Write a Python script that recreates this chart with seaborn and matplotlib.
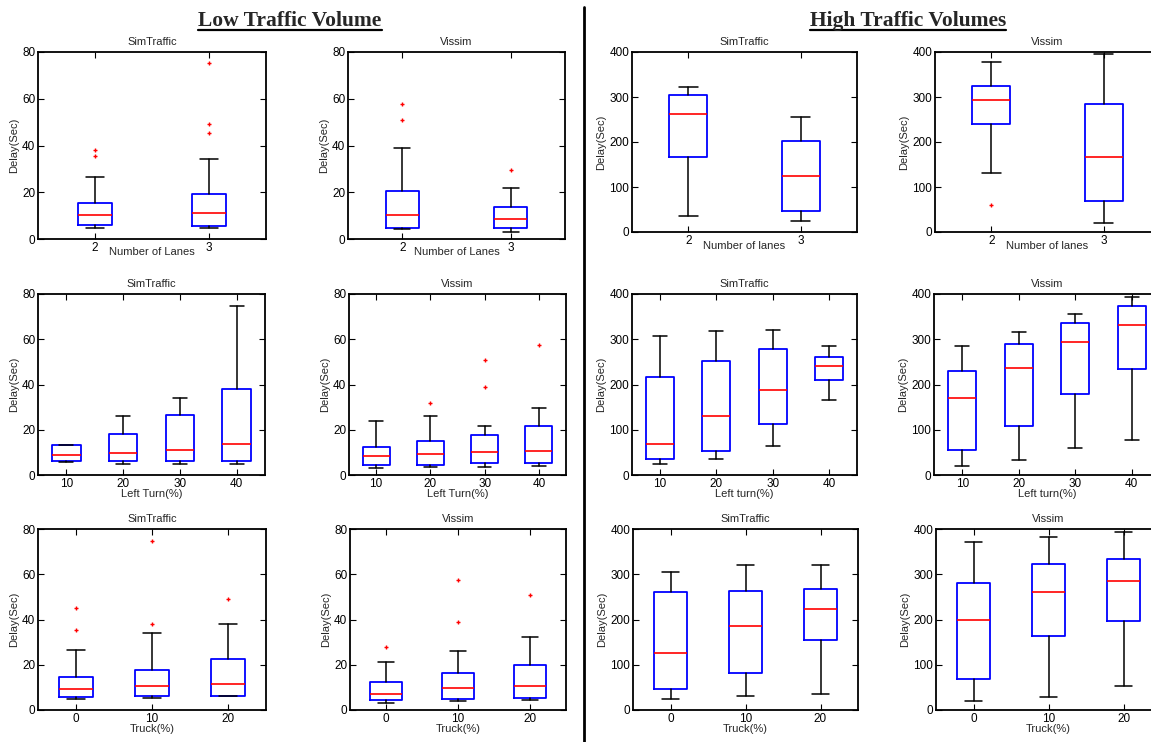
import matplotlib
matplotlib.use("Agg")
import matplotlib.pyplot as plt
import seaborn as sns
from matplotlib.lines import Line2D

W, H = 1151, 742

lanes = ["2", "3"]
left_turn = ["10", "20", "30", "40"]
truck = ["0", "10", "20"]

# per category: [lower whisker, q1, median, q3, upper whisker]
low_sim_lanes = [[4.7, 6.0, 10.1, 15.4, 26.4], [4.9, 5.7, 11.1, 19.1, 34.1]]
low_sim_lanes_out = [[38.1, 35.5], [75.2, 49.1, 45.2]]
low_vis_lanes = [[4.1, 4.9, 10.1, 20.4, 38.9], [3.1, 4.7, 8.6, 13.6, 21.7]]
low_vis_lanes_out = [[57.6, 50.9], [29.5]]
high_sim_lanes = [[36.3, 165.9, 261.5, 303.7, 322.2], [25.2, 47.4, 124.4, 201.5, 254.8]]
high_sim_lanes_out = [[], []]
high_vis_lanes = [[130.4, 240.7, 292.6, 324.4, 377.0], [20.7, 69.6, 167.4, 284.4, 395.6]]
high_vis_lanes_out = [[59.3], []]

low_sim_left = [[5.6, 6.2, 8.7, 13.1, 13.1], [5.0, 6.0, 9.9, 18.1, 26.1],
                [5.0, 6.0, 11.2, 26.5, 34.0], [4.9, 6.0, 13.7, 37.8, 74.8]]
low_sim_left_out = [[], [], [], []]
low_vis_left = [[3.1, 4.4, 8.2, 12.5, 24.0], [3.7, 4.6, 9.3, 14.9, 26.1],
                [3.7, 5.3, 10.0, 17.7, 21.5], [4.0, 5.2, 10.5, 21.8, 29.6]]
low_vis_left_out = [[], [32.0], [50.8, 38.7], [57.3]]
high_sim_left = [[25.0, 35.4, 68.5, 215.8, 307.9], [34.6, 53.0, 129.7, 251.9, 318.2],
                 [64.8, 112.7, 188.6, 277.7, 321.2], [165.7, 209.2, 240.1, 260.8, 284.3]]
high_sim_left_out = [[], [], [], []]
high_vis_left = [[20.6, 56.0, 170.2, 229.1, 284.3], [32.4, 108.3, 235.7, 288.8, 316.0],
                 [59.7, 178.3, 293.9, 335.9, 355.1], [78.1, 233.5, 331.5, 372.7, 392.6]]
high_vis_left_out = [[], [], [], []]

low_sim_truck = [[4.9, 5.6, 9.1, 14.6, 26.7], [5.5, 6.0, 10.8, 17.8, 34.2],
                 [6.0, 6.0, 11.6, 22.4, 38.0]]
low_sim_truck_out = [[45.1, 35.4], [74.7, 37.9], [48.9]]
low_vis_truck = [[3.2, 4.6, 7.2, 12.5, 21.2], [4.0, 4.9, 9.6, 16.4, 26.1],
                 [4.3, 5.3, 10.6, 19.7, 32.1]]
low_vis_truck_out = [[27.7], [57.3, 38.7], [50.8]]
high_sim_truck = [[25.0, 47.1, 126.0, 260.8, 305.7], [30.2, 82.5, 184.9, 262.2, 321.2],
                  [35.4, 154.0, 222.5, 268.1, 320.4]]
high_sim_truck_out = [[], [], []]
high_vis_truck = [[20.6, 69.2, 198.2, 281.4, 370.5], [29.5, 163.5, 260.0, 323.4, 382.3],
                  [53.8, 196.7, 285.1, 334.4, 393.4]]
high_vis_truck_out = [[], [], []]


def px(left, top, right, bottom):
    return [left / W, 1 - bottom / H, (right - left) / W, (bottom - top) / H]


def draw_panel(fig, rect, summary, outliers, cats, title, xlabel, ymax,
               width, xlabelpad):
    ax = fig.add_axes(px(*rect))
    stats = [dict(whislo=s[0], q1=s[1], med=s[2], q3=s[3], whishi=s[4],
                  fliers=o, label=c) for s, o, c in zip(summary, outliers, cats)]
    ax.bxp(stats, widths=width, showfliers=True,
           boxprops=dict(color="blue", lw=1.3),
           medianprops=dict(color="red", lw=1.2),
           whiskerprops=dict(color="black", lw=1.1),
           capprops=dict(color="black", lw=1.1),
           flierprops=dict(marker="+", markeredgecolor="red", markersize=3.5,
                           markeredgewidth=1.0, linestyle="none"))
    ax.set_xlim(0.5, len(cats) + 0.5)
    ax.set_ylim(0, ymax)
    ax.set_yticks([ymax * i / 4 for i in range(5)])
    ax.set_facecolor("white")
    ax.grid(False)
    for sp in ax.spines.values():
        sp.set_visible(True)
        sp.set_color("black")
        sp.set_linewidth(1.3)
    ax.tick_params(direction="in", top=True, right=True, length=4, width=0.8,
                   labelsize=8.5, pad=2, colors="black")
    ax.set_title(title, fontsize=8, pad=5)
    ax.set_xlabel(xlabel, fontsize=8, labelpad=xlabelpad)
    ax.set_ylabel("Delay(Sec)", fontsize=8, labelpad=2)
    return ax


sns.set_theme(style="ticks", context="paper")
plt.rcParams["font.family"] = ["Liberation Sans", "DejaVu Sans"]

fig = plt.figure(figsize=(W / 100, H / 100), dpi=100)
fig.patch.set_facecolor("white")

panels = [
    ((38, 52, 266, 239), low_sim_lanes, low_sim_lanes_out, lanes, "SimTraffic", "Number of Lanes", 80, 0.3, -5),
    ((348, 52, 565, 239), low_vis_lanes, low_vis_lanes_out, lanes, "Vissim", "Number of Lanes", 80, 0.3, -5),
    ((632, 52, 857, 232), high_sim_lanes, high_sim_lanes_out, lanes, "SimTraffic", "Number of lanes", 400, 0.34, -4),
    ((935, 52, 1160, 232), high_vis_lanes, high_vis_lanes_out, lanes, "Vissim", "Number of lanes", 400, 0.34, -4),
    ((38, 294, 265, 475), low_sim_left, low_sim_left_out, left_turn, "SimTraffic", "Left Turn(%)", 80, 0.5, -0.5),
    ((349, 294, 566, 475), low_vis_left, low_vis_left_out, left_turn, "Vissim", "Left Turn(%)", 80, 0.5, -0.5),
    ((632, 294, 857, 475), high_sim_left, high_sim_left_out, left_turn, "SimTraffic", "Left turn(%)", 400, 0.5, -0.5),
    ((934, 294, 1160, 475), high_vis_left, high_vis_left_out, left_turn, "Vissim", "Left turn(%)", 400, 0.5, -0.5),
    ((38, 529, 266, 710), low_sim_truck, low_sim_truck_out, truck, "SimTraffic", "Truck(%)", 80, 0.45, -0.5),
    ((350, 529, 566, 710), low_vis_truck, low_vis_truck_out, truck, "Vissim", "Truck(%)", 80, 0.45, -0.5),
    ((633, 529, 858, 710), high_sim_truck, high_sim_truck_out, truck, "SimTraffic", "Truck(%)", 400, 0.45, -0.5),
    ((936, 529, 1161, 710), high_vis_truck, high_vis_truck_out, truck, "Vissim", "Truck(%)", 400, 0.45, -0.5),
]
for p in panels:
    draw_panel(fig, *p)

# section headings, underlined
headings = []
for x, text in [(290, "Low Traffic Volume"), (908, "High Traffic Volumes")]:
    t = fig.text(x / W, 1 - 26 / H, text, ha="center", va="baseline",
                 fontsize=15.5, fontweight="bold", family="Liberation Serif")
    headings.append(t)
fig.canvas.draw()
renderer = fig.canvas.get_renderer()
for t in headings:
    bb = t.get_window_extent(renderer).transformed(fig.transFigure.inverted())
    y = 1 - 30 / H
    fig.add_artist(Line2D([bb.x0, bb.x1], [y, y], transform=fig.transFigure,
                          color="black", lw=1.6))

# divider between the two halves
fig.add_artist(Line2D([584 / W, 584 / W], [1 - 7 / H, 0], transform=fig.transFigure,
                      color="black", lw=2))

fig.savefig("out.png", dpi=100, facecolor="white")
